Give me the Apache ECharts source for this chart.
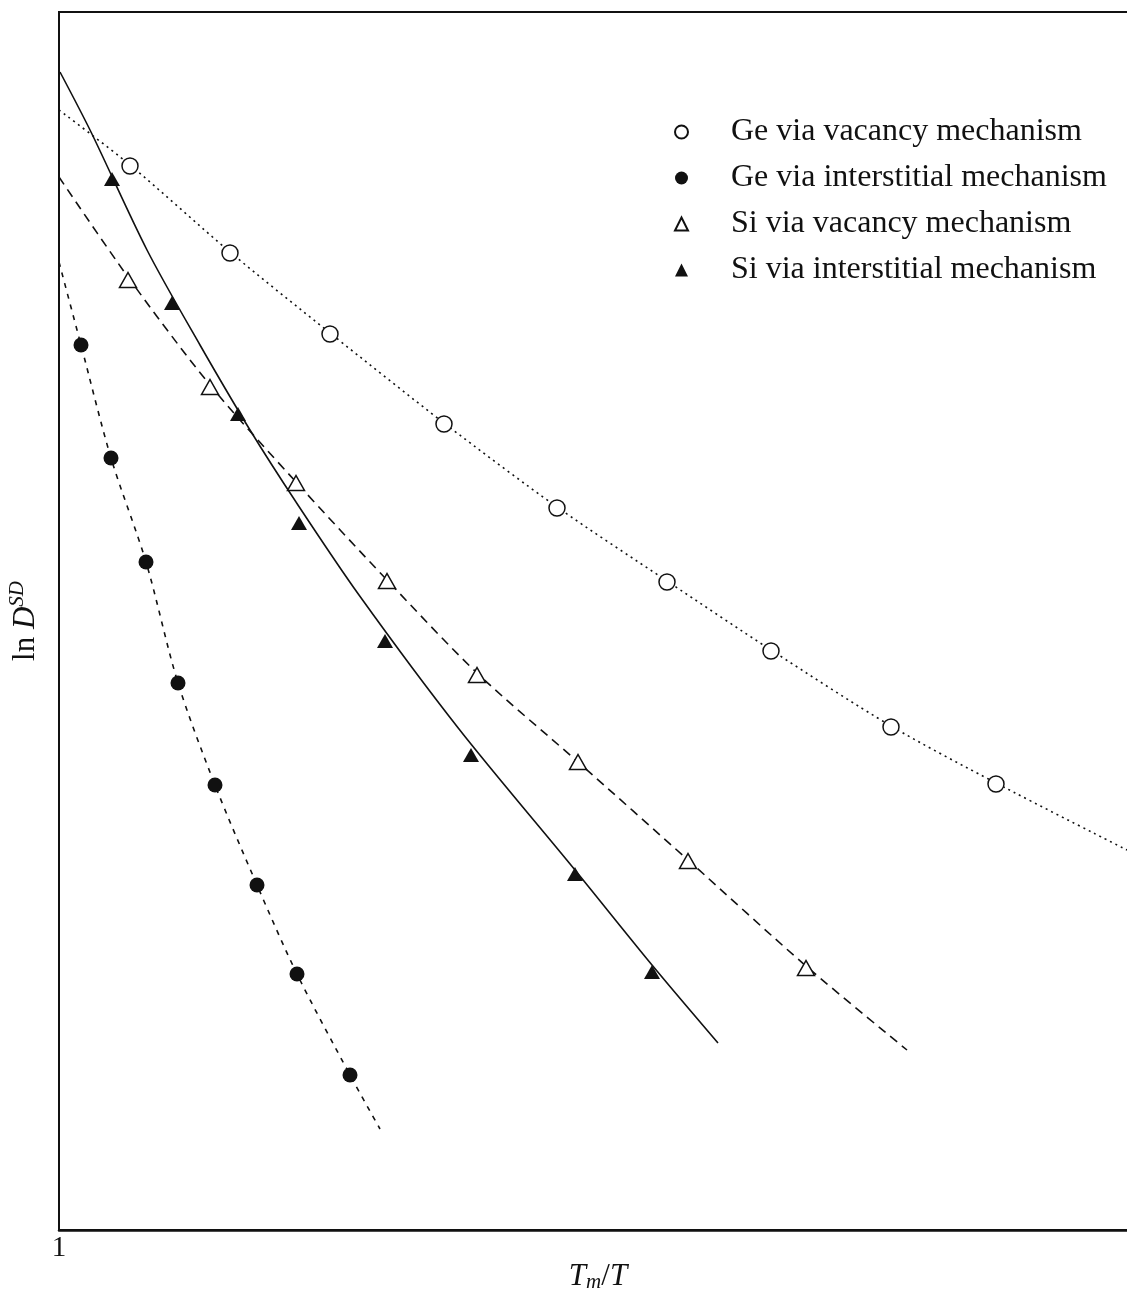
<!DOCTYPE html>
<html>
<head>
<meta charset="utf-8">
<title>Self-diffusion: ln D vs Tm/T</title>
<script src="https://cdn.jsdelivr.net/npm/echarts@6/dist/echarts.min.js"></script>
<style>
  html, body { margin: 0; padding: 0; background: #fff; }
  #chart { width: 1127px; height: 1292px; }
</style>
</head>
<body>
<div id="chart"></div>
<script>
// Homologous temperature Tm/T (x) and ln D^SD in arbitrary units (y)

// Measured points
const geVacancyPts = [
  [1.071, 10.64], [1.171, 9.77], [1.271, 8.96], [1.385, 8.06], [1.498, 7.22],
  [1.608, 6.48], [1.712, 5.79], [1.832, 5.03], [1.937, 4.46]
];
const geInterstitialPts = [
  [1.022, 8.85], [1.052, 7.72], [1.087, 6.68], [1.119, 5.47],
  [1.156, 4.45], [1.198, 3.45], [1.238, 2.56], [1.291, 1.55]
];
const siVacancyPts = [
  [1.069, 9.50], [1.151, 8.43], [1.237, 7.47], [1.328, 6.49],
  [1.418, 5.55], [1.519, 4.68], [1.629, 3.69], [1.747, 2.62]
];
const siInterstitialPts = [
  [1.053, 10.51], [1.113, 9.27], [1.179, 8.16], [1.240, 7.07],
  [1.326, 5.89], [1.412, 4.75], [1.516, 3.56], [1.593, 2.58]
];

// Fitted curves
const geVacancyFit = [
  [1.000, 11.20], [1.071, 10.65], [1.171, 9.78], [1.271, 8.97], [1.385, 8.07],
  [1.498, 7.23], [1.608, 6.49], [1.712, 5.80], [1.832, 5.04], [1.937, 4.47], [2.068, 3.80]
];
const geInterstitialFit = [
  [1.000, 9.68], [1.022, 8.85], [1.052, 7.72], [1.087, 6.68], [1.119, 5.47],
  [1.156, 4.45], [1.198, 3.45], [1.238, 2.56], [1.291, 1.55], [1.321, 1.01]
];
const siVacancyFit = [
  [1.000, 10.53], [1.069, 9.53], [1.151, 8.45], [1.237, 7.48], [1.328, 6.50],
  [1.418, 5.57], [1.519, 4.68], [1.629, 3.70], [1.747, 2.64], [1.848, 1.80]
];
const siInterstitialFit = [
  [1.001, 11.58], [1.032, 10.98], [1.088, 9.80], [1.141, 8.85], [1.191, 8.00],
  [1.237, 7.28], [1.300, 6.35], [1.400, 5.01], [1.516, 3.60], [1.593, 2.65], [1.659, 1.87]
];

const seriesNames = [
  'Ge via vacancy mechanism',
  'Ge via interstitial mechanism',
  'Si via vacancy mechanism',
  'Si via interstitial mechanism'
];
const xTickLabels = ['1'];

const FONT = 'Liberation Serif';
const INK = '#111';

function fitLine(data, dash) {
  return {
    type: 'line', data: data, smooth: 0.3,
    symbol: 'none', silent: true,
    lineStyle: { color: INK, width: 1.6, type: dash }, z: 2
  };
}

const chart = echarts.init(document.getElementById('chart'));
chart.setOption({
  animation: false,
  backgroundColor: '#fff',
  grid: {
    left: 59, top: 12, width: 1100, height: 1218,
    outerBoundsMode: 'none', containLabel: false,
    show: true, borderColor: INK, borderWidth: 2, backgroundColor: 'transparent'
  },
  xAxis: {
    type: 'value', min: 1, max: 2.1, interval: 0.5,
    splitLine: { show: false }, axisTick: { show: false },
    axisLine: { show: true, lineStyle: { color: INK, width: 2.5 } },
    axisLabel: {
      margin: 4, color: INK, fontFamily: FONT, fontSize: 29,
      formatter: v => (Math.abs(v - 1) < 1e-9 ? xTickLabels[0] : '')
    },
    name: '{i|T}{s|m}{r|/}{i|T}',
    nameLocation: 'middle', nameGap: 30, nameMoveOverlap: false,
    nameTextStyle: {
      padding: [0, 22, 0, 0],
      rich: {
        i: { fontFamily: FONT, fontStyle: 'italic', fontSize: 31, color: INK },
        r: { fontFamily: FONT, fontSize: 31, color: INK },
        s: { fontFamily: FONT, fontStyle: 'italic', fontSize: 21, color: INK, padding: [12, 0, 0, 0] }
      }
    }
  },
  yAxis: {
    type: 'value', min: 0, max: 12.18,
    splitLine: { show: false }, axisTick: { show: false }, axisLabel: { show: false },
    axisLine: { show: true, lineStyle: { color: INK, width: 2 } },
    name: '{r|ln }{i|D}{s|SD}',
    nameLocation: 'middle', nameGap: 15, nameRotate: 90, nameMoveOverlap: false,
    nameTextStyle: {
      rich: {
        i: { fontFamily: FONT, fontStyle: 'italic', fontSize: 31, color: INK },
        r: { fontFamily: FONT, fontSize: 31, color: INK },
        s: { fontFamily: FONT, fontStyle: 'italic', fontSize: 21, color: INK, padding: [0, 0, 16, 0] }
      }
    }
  },
  legend: {
    orient: 'vertical', left: 669, top: 109,
    itemWidth: 13, itemHeight: 13, itemGap: 10,
    data: seriesNames,
    textStyle: {
      fontFamily: FONT, fontSize: 32, color: INK, lineHeight: 36,
      padding: [0, 0, 0, 38]
    }
  },
  series: [
    fitLine(geVacancyFit, [2, 4]),
    fitLine(geInterstitialFit, [5, 6]),
    fitLine(siVacancyFit, [9, 6]),
    fitLine(siInterstitialFit, 'solid'),
    {
      name: seriesNames[0], type: 'scatter', data: geVacancyPts,
      symbol: 'circle', symbolSize: 16, z: 5,
      itemStyle: { color: '#fff', borderColor: INK, borderWidth: 1.5, opacity: 1 }
    },
    {
      name: seriesNames[1], type: 'scatter', data: geInterstitialPts,
      symbol: 'circle', symbolSize: 15, z: 5,
      itemStyle: { color: INK, borderColor: INK, borderWidth: 0, opacity: 1 }
    },
    {
      name: seriesNames[2], type: 'scatter', data: siVacancyPts,
      symbol: 'triangle', symbolSize: [17, 15], z: 5,
      itemStyle: { color: '#fff', borderColor: INK, borderWidth: 1.5, opacity: 1 }
    },
    {
      name: seriesNames[3], type: 'scatter', data: siInterstitialPts,
      symbol: 'triangle', symbolSize: [16, 14], z: 5,
      itemStyle: { color: INK, borderColor: INK, borderWidth: 0, opacity: 1 }
    }
  ]
});
</script>
</body>
</html>
